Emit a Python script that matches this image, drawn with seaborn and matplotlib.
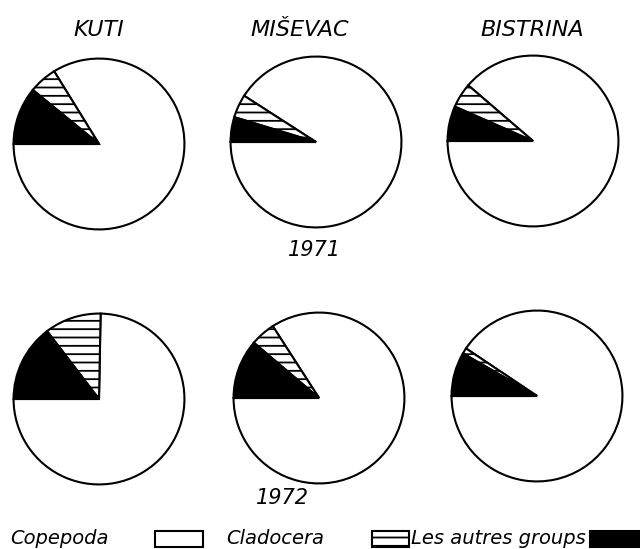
import numpy as np
import pandas as pd
import matplotlib
matplotlib.use("Agg")
import matplotlib.pyplot as plt
import seaborn as sns
from matplotlib.patches import Rectangle

sites = ["KUTI", "MIŠEVAC", "BISTRINA"]
years = ["1971", "1972"]
groups = ["Copepoda", "Cladocera", "Les autres groups"]

# percentages
copepoda_1971 = [83.8, 90.9, 88.7]
cladocera_1971 = [5.3, 4.4, 4.7]
autres_1971 = [10.9, 4.7, 6.6]

copepoda_1972 = [74.7, 84.1, 90.6]
cladocera_1972 = [10.7, 4.7, 1.1]
autres_1972 = [14.6, 11.2, 8.3]

data = {
    "1971": (copepoda_1971, cladocera_1971, autres_1971),
    "1972": (copepoda_1972, cladocera_1972, autres_1972),
}

sns.set_theme(style="white")
plt.rcParams["font.family"] = ["DejaVu Sans"]
plt.rcParams["text.color"] = "black"
plt.rcParams["hatch.linewidth"] = 1.3

W, H = 640, 549
fig = plt.figure(figsize=(W / 100, H / 100), dpi=100)

centers = {
    "1971": [(99, 144), (316, 142), (533, 141)],
    "1972": [(99, 399), (319, 398), (537, 396)],
}
R = 86

fills = ["white", "white", "black"]
hatches = [None, "--", None]

for year in years:
    cop, cla, aut = data[year]
    for i, site in enumerate(sites):
        cx, cy = centers[year][i]
        ax = fig.add_axes([(cx - R - 2) / W, 1 - (cy + R + 2) / H,
                           (2 * R + 4) / W, (2 * R + 4) / H])
        wedges, _ = ax.pie([cop[i], cla[i], aut[i]], startangle=180,
                           counterclock=True, colors=fills,
                           wedgeprops=dict(edgecolor="black", linewidth=1.5))
        for w, h in zip(wedges, hatches):
            if h:
                w.set_hatch(h)
        ax.set_xlim(-1.03, 1.03)
        ax.set_ylim(-1.03, 1.03)
        ax.set_aspect("equal")
        ax.axis("off")

title_x = [99, 300, 532]
for x, s in zip(title_x, sites):
    fig.text(x / W, 1 - 30 / H, s, ha="center", va="center",
             fontsize=16, style="italic", color="black")

fig.text(314 / W, 1 - 250 / H, "1971", ha="center", va="center",
         fontsize=15, style="italic", color="black")
fig.text(282 / W, 1 - 498 / H, "1972", ha="center", va="center",
         fontsize=15, style="italic", color="black")

ly = 1 - 539 / H
fig.text(10 / W, ly, "Copepoda", ha="left", va="center", fontsize=14,
         style="italic", color="black")
fig.text(226 / W, ly, "Cladocera", ha="left", va="center", fontsize=14,
         style="italic", color="black")
fig.text(411 / W, ly, "Les autres groups", ha="left", va="center", fontsize=14,
         style="italic", color="black",
         family=["Liberation Sans Narrow", "DejaVu Sans"])

box_h = 16
for (x0, x1), fc, h in zip([(155, 203), (372, 409), (590, 642)],
                           ["white", "white", "black"], [None, "--", None]):
    fig.patches.append(Rectangle((x0 / W, 1 - (539 + box_h / 2) / H),
                                 (x1 - x0) / W, box_h / H,
                                 transform=fig.transFigure, facecolor=fc,
                                 edgecolor="black", linewidth=1.5, hatch=h))

fig.savefig("out.png", dpi=100, facecolor="white")
